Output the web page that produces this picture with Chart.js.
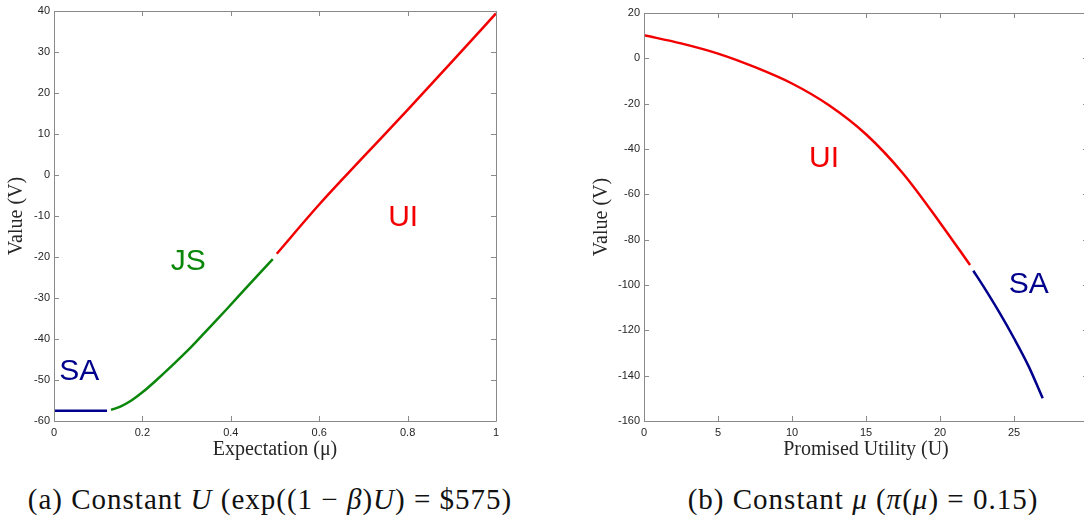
<!DOCTYPE html>
<html>
<head>
<meta charset="utf-8">
<script src="https://cdn.jsdelivr.net/npm/chart.js@4/dist/chart.umd.min.js"></script>
<style>
	html, body { margin: 0; padding: 0; background: #fff; overflow: hidden; width: 1084px; height: 529px; }
	#left-canvas { position: absolute; left: 0; top: 0; }
	#right-canvas { position: absolute; left: 544px; top: 0; }
	.caption {
		position: absolute; top: 483px; transform: translateX(-50%);
		font-family: "Liberation Serif", serif; font-size: 29px; letter-spacing: 1px;
		color: #111; white-space: nowrap;
	}
</style>
</head>
<body>
<canvas id="left-canvas" width="540" height="470"></canvas>
<canvas id="right-canvas" width="560" height="470"></canvas>
<div class="caption" style="left:270px">(a) Constant <i>U</i> (exp((1 − <i>β</i>)<i>U</i>) = $575)</div>
<div class="caption" style="left:863px">(b) Constant <i>μ</i> (<i>π</i>(<i>μ</i>) = 0.15)</div>
<script>
// data, panel (a): constant U
const saLeftX = [0, 0.06, 0.12]
const saLeftY = [-57.5, -57.5, -57.5]
const jsLeftX = [0.129, 0.15, 0.175, 0.2, 0.232, 0.27, 0.31, 0.35, 0.39, 0.43, 0.465, 0.495]
const jsLeftY = [-57.3, -56.5, -55.0, -53.0, -50.0, -46.2, -42.0, -37.4, -32.8, -28.1, -24.0, -20.5]
const uiLeftX = [0.504, 0.6, 0.7, 0.8, 0.9, 1.0]
const uiLeftY = [-19.2, -7.2, 4.4, 15.9, 27.6, 39.4]

// data, panel (b): constant mu
const uiRightX = [0, 2.5, 5, 7.5, 10, 12.5, 15, 17.5, 20, 22.03]
const uiRightY = [10.2, 6.6, 2.1, -3.9, -11.1, -20.7, -33.5, -50.8, -72.5, -91.2]
const saRightX = [22.25, 23.0, 24.0, 25.0, 26.0, 26.94]
const saRightY = [-93.7, -101.3, -112.0, -123.5, -136.0, -150.0]

// region labels (data coordinates)
const leftLabels = ["SA", "JS", "UI"]
const leftLabelX = [0.057, 0.304, 0.79]
const leftLabelY = [-48.0, -21.2, -10.5]
const rightLabels = ["UI", "SA"]
const rightLabelX = [12.16, 26.0]
const rightLabelY = [-44.4, -100.0]

const RED = "#f20000"
const GREEN = "#0a870a"
const BLUE = "#00008c"
const FRAME = "#8a8a8a"
const TEXT = "#262626"

const toPoints = (xs, ys) => xs.map((x, i) => ({ x: x, y: ys[i] }))

const series = (xs, ys, color) => ({
	data: toPoints(xs, ys),
	borderColor: color,
	backgroundColor: color,
	borderWidth: 2.5,
	pointRadius: 0,
	showLine: true,
	cubicInterpolationMode: "monotone",
})

// inward ticks on all four sides plus the frame
const boxTicks = {
	id: "boxTicks",
	afterDraw(chart) {
		const { ctx, chartArea: a, scales: { x, y } } = chart
		ctx.save()
		ctx.strokeStyle = FRAME
		ctx.lineWidth = 1
		ctx.beginPath()
		ctx.rect(Math.round(a.left) + 0.5, Math.round(a.top) + 0.5, Math.round(a.right - a.left), Math.round(a.bottom - a.top))
		x.ticks.forEach((t, i) => {
			const px = Math.round(x.getPixelForTick(i)) + 0.5
			ctx.moveTo(px, a.bottom)
			ctx.lineTo(px, a.bottom - 5)
			ctx.moveTo(px, a.top)
			ctx.lineTo(px, a.top + 5)
		})
		y.ticks.forEach((t, i) => {
			const py = Math.round(y.getPixelForTick(i)) + 0.5
			ctx.moveTo(a.left, py)
			ctx.lineTo(a.left + 5, py)
			ctx.moveTo(a.right, py)
			ctx.lineTo(a.right - 5, py)
		})
		ctx.stroke()
		ctx.restore()
	},
}

const regionLabels = {
	id: "regionLabels",
	afterDatasetsDraw(chart, args, opts) {
		const { ctx, scales: { x, y } } = chart
		ctx.save()
		ctx.font = "30px 'Liberation Sans', Arial, sans-serif"
		ctx.textAlign = "center"
		ctx.textBaseline = "middle"
		opts.text.forEach((txt, i) => {
			ctx.fillStyle = opts.colors[i]
			ctx.fillText(txt, x.getPixelForValue(opts.xs[i]), y.getPixelForValue(opts.ys[i]))
		})
		ctx.restore()
	},
}

const tickFont = { family: "'Liberation Sans', Arial, sans-serif", size: 11 }
const titleFont = { family: "'Liberation Serif', serif", size: 20 }

// matlab style numbers: 0, 0.2, ... 1
const plainNumber = v => String(+v.toFixed(3))

const createPanel = (target, datasets, cfg) => {
	new Chart(target, {
		type: "scatter",
		data: { datasets: datasets },
		plugins: [boxTicks, regionLabels],
		options: {
			responsive: false,
			animation: false,
			layout: { padding: cfg.padding },
			plugins: {
				legend: { display: false },
				tooltip: { enabled: false },
				regionLabels: cfg.labels,
			},
			scales: {
				x: {
					type: "linear",
					min: cfg.xMin,
					max: cfg.xMax,
					afterFit: s => { s.height = 49 },
					grid: { display: false, drawTicks: false },
					border: { display: false },
					ticks: {
						stepSize: cfg.xStep, padding: 5, color: TEXT, font: tickFont, maxRotation: 0,
						// the last label of panel (b) sits outside the picture
						callback: v => (cfg.hideLastX && v === cfg.xMax ? "" : plainNumber(v)),
					},
					title: { display: true, text: cfg.xTitle, color: TEXT, font: titleFont, padding: { top: 0, bottom: 8 } },
				},
				y: {
					type: "linear",
					min: cfg.yMin,
					max: cfg.yMax,
					afterFit: s => { s.width = cfg.yWidth },
					grid: { display: false, drawTicks: false },
					border: { display: false },
					ticks: { stepSize: cfg.yStep, padding: 4, color: TEXT, font: tickFont, callback: plainNumber },
					title: { display: true, text: "Value (V)", color: TEXT, font: titleFont, padding: { top: cfg.yTitlePad, bottom: 0 } },
				},
			},
		},
	})
}

createPanel(
	document.querySelector("#left-canvas"),
	[
		series(saLeftX, saLeftY, BLUE),
		series(jsLeftX, jsLeftY, GREEN),
		series(uiLeftX, uiLeftY, RED),
	],
	{
		padding: { top: 11, right: 44, bottom: 0, left: 0 },
		xMin: 0, xMax: 1, xStep: 0.2,
		yMin: -60, yMax: 40, yStep: 10,
		yWidth: 54, yTitlePad: 5,
		xTitle: "Expectation (μ)",
		labels: { text: leftLabels, xs: leftLabelX, ys: leftLabelY, colors: [BLUE, GREEN, RED] },
	}
)

createPanel(
	document.querySelector("#right-canvas"),
	[
		series(uiRightX, uiRightY, RED),
		series(saRightX, saRightY, BLUE),
	],
	{
		padding: { top: 13, right: 16, bottom: 0, left: 0 },
		xMin: 0, xMax: 30, xStep: 5, hideLastX: true,
		yMin: -160, yMax: 20, yStep: 20,
		yWidth: 100, yTitlePad: 46,
		xTitle: "Promised Utility (U)",
		labels: { text: rightLabels, xs: rightLabelX, ys: rightLabelY, colors: [RED, BLUE] },
	}
)
</script>
</body>
</html>
